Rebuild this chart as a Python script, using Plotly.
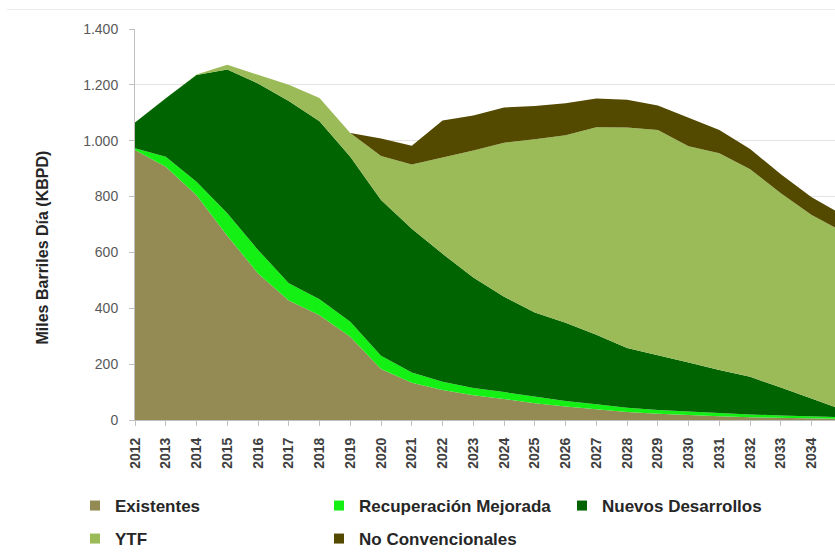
import plotly.graph_objects as go

years = list(range(2012, 2036))

existentes = [967, 907, 805, 660, 525, 428, 375, 298, 183, 133, 107, 89,
              75, 60, 48, 38, 29, 22, 17, 13, 10, 8, 6, 4]
recuperacion = [6, 36, 48, 80, 84, 62, 57, 54, 47, 37, 30, 26,
                25, 23, 20, 18, 15, 14, 13, 12, 10, 8, 7, 6]
nuevos = [92, 209, 382, 515, 596, 652, 638, 591, 558, 515, 458, 395,
          341, 302, 280, 249, 214, 197, 176, 154, 135, 100, 65, 27]
ytf = [0, 0, 2, 17, 30, 58, 83, 85, 157, 230, 345, 455,
       552, 620, 672, 743, 789, 805, 774, 776, 743, 696, 656, 638]
no_conv = [0, 0, 0, 0, 0, 0, 0, 0, 63, 67, 132, 125,
           126, 119, 114, 103, 100, 88, 102, 83, 72, 68, 64, 60]

series_names = ["Existentes", "Recuperación Mejorada", "Nuevos Desarrollos",
                "YTF", "No Convencionales"]
series_values = [existentes, recuperacion, nuevos, ytf, no_conv]
series_colors = ["#948A54", "#14F014", "#006400", "#9BBB59", "#534A00"]

y_ticks = [0, 200, 400, 600, 800, 1000, 1200, 1400]
y_ticktext = ["0", "200", "400", "600", "800", "1.000", "1.200", "1.400"]
x_ticks = list(range(2012, 2035))

FONT = "Liberation Sans, Arial, sans-serif"

# plot area in pixels: left 135, width 700, bottom 420, height 391
def px_x(p):
    return (p - 135) / 700

def px_y(p):
    return (420 - p) / 391

fig = go.Figure()
for name, vals, color in zip(series_names, series_values, series_colors):
    fig.add_trace(go.Scatter(
        x=years, y=vals, name=name, stackgroup="one", mode="lines",
        line=dict(width=0, color=color), fillcolor=color,
        showlegend=False, hoverinfo="x+y+name"))

# one legend per entry, placed like the original two-row legend
legend_ids = ["legend", "legend2", "legend3", "legend4", "legend5"]
legend_pos = [(75, 488), (319, 488), (562, 488), (75, 521), (319, 521)]
for name, color, lg in zip(series_names, series_colors, legend_ids):
    fig.add_trace(go.Scatter(
        x=[None], y=[None], mode="markers", name=name,
        marker=dict(symbol="square", size=10, color=color),
        legend=lg, showlegend=True))

legend_common = dict(
    orientation="v", xanchor="left", yanchor="top",
    font=dict(family=FONT, size=17, color="#262626", weight="bold"),
    bgcolor="rgba(0,0,0,0)", itemclick=False, itemdoubleclick=False,
)
legend_layout = {}
for lg, (lx, ly) in zip(legend_ids, legend_pos):
    legend_layout[lg] = dict(x=px_x(lx), y=px_y(ly), **legend_common)

fig.update_layout(
    width=835, height=552, autosize=False,
    margin=dict(l=135, r=0, t=29, b=132, autoexpand=False),
    paper_bgcolor="white", plot_bgcolor="white",
    font=dict(family=FONT),
    showlegend=True,
    xaxis=dict(
        range=[2012, 2034.76], tickmode="array", tickvals=x_ticks,
        ticktext=[str(v) for v in x_ticks], tickangle=-90,
        ticks="outside", ticklen=5, tickcolor="#bfbfbf",
        showline=True, linecolor="#bfbfbf", linewidth=1,
        showgrid=False, zeroline=False, automargin=False,
        tickfont=dict(family=FONT, size=14, color="#404040", weight="bold"),
        ticklabelstandoff=6,
    ),
    yaxis=dict(
        range=[0, 1400], tickmode="array", tickvals=y_ticks, ticktext=y_ticktext,
        ticks="outside", ticklen=5, tickcolor="#bfbfbf",
        showline=True, linecolor="#bfbfbf", linewidth=1,
        showgrid=True, gridcolor="#e3e3e3", gridwidth=1, zeroline=False,
        automargin=False,
        tickfont=dict(family=FONT, size=14, color="#595959"),
        ticklabelstandoff=8,
    ),
    annotations=[dict(
        text="Miles Barriles Día (KBPD)", textangle=-90,
        xref="paper", yref="paper",
        x=px_x(42), y=px_y(247.5),
        xanchor="center", yanchor="middle", showarrow=False,
        font=dict(family=FONT, size=16, color="#262626", weight="bold"),
    )],
    shapes=[dict(
        type="line", xref="paper", yref="paper",
        x0=px_x(7), x1=1, y0=px_y(9.5), y1=px_y(9.5),
        line=dict(color="#ececec", width=1),
    )],
    **legend_layout,
)

fig.write_html(
    "out.html",
    config={"displayModeBar": False},
    post_script="document.body.style.margin='0px';document.body.style.overflow='hidden';",
)
